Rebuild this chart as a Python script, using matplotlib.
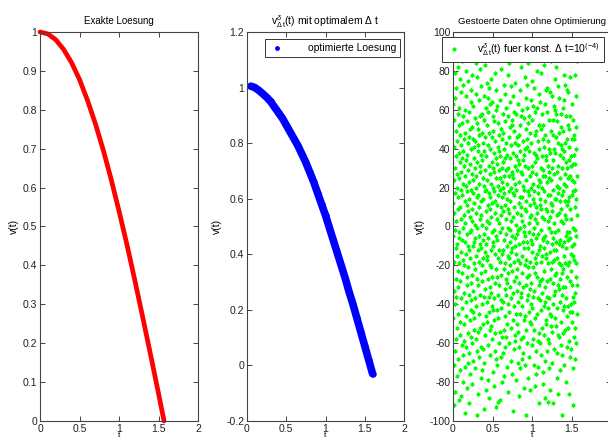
import numpy as np
import matplotlib.pyplot as plt
from matplotlib.lines import Line2D

plt.rcParams['font.family'] = ['Liberation Sans', 'DejaVu Sans']
plt.rcParams['mathtext.fontset'] = 'custom'
plt.rcParams['mathtext.rm'] = 'Liberation Sans'
plt.rcParams['mathtext.it'] = 'Liberation Sans:italic'
plt.rcParams['mathtext.bf'] = 'Liberation Sans:bold'
plt.rcParams['font.size'] = 7

# exakte Loesung
t1 = [0.0, 0.1, 0.2, 0.3, 0.4, 0.5, 0.6, 0.7, 0.8, 0.9, 1.0, 1.1, 1.2, 1.3, 1.4, 1.5, 1.57]
v1 = [1.0, 0.995, 0.980, 0.955, 0.921, 0.878, 0.825, 0.765, 0.697, 0.622, 0.540,
      0.454, 0.362, 0.267, 0.170, 0.071, 0.0]

# optimierte Loesung
t2 = [0.05, 0.10, 0.15, 0.20, 0.25, 0.30, 0.35, 0.40, 0.45, 0.50, 0.55, 0.60, 0.65, 0.70,
      0.75, 0.80, 0.85, 0.90, 0.95, 1.00, 1.05, 1.10, 1.15, 1.20, 1.25, 1.30, 1.35, 1.40,
      1.45, 1.50, 1.55, 1.60]
v2 = [1.005, 1.0, 0.99, 0.978, 0.965, 0.95, 0.93, 0.91, 0.89, 0.865, 0.84, 0.815, 0.79,
      0.76, 0.73, 0.695, 0.66, 0.62, 0.58, 0.54, 0.495, 0.45, 0.405, 0.36, 0.315, 0.265,
      0.22, 0.17, 0.12, 0.07, 0.02, -0.03]

# gestoerte Daten, t laeuft gleichmaessig von 0 bis 1.57
t3_start, t3_end = 0.0, 1.57
v3 = [
    12, -47, 63, -5, 88, -71, 24, -33, 41, -92, 7, 55, -18, 30, -64, 79, -2, -40, 17, 66, -85, 36, -11, 49, -27,
    -58, 3, 71, -36, 20, -9, 94, -52, 44, -15, 27, -77, 58, -23, 9, -45, 82, -31, 15, -68, 38, -6, 52, -89, 25,
    61, -19, -3, 47, -74, 33, -56, 10, 76, -28, -49, 19, -87, 42, 4, -37, 69, -13, 28, -61, 53, -24, 85, -7, 35,
    -42, 16, -80, 57, -1, 39, -66, 22, -17, 73, -50, 6, 45, -34, 90, -20, 31, -59, 13, -96, 48, -8, 26, -72, 60,
    2, -39, 34, -62, 80, -14, 21, -46, 67, -26, 11, -83, 37, -4, 54, -30, 18, -70, 43, -10, 75, -55, 29, -21, 8,
    -65, 46, -12, 23, -91, 59, -35, 14, -48, 86, -3, 32, -76, 50, -16, 5, -43, 70, -29, 40, -57, 19, -2, 64, -38,
    27, -81, 9, -25, 51, -60, 3, 78, -44, 17, -10, 62, -33, 24, -69, 45, -8, 35, -53, 12, 92, -19, 41, -47, 1,
    -22, 56, -73, 30, -6, 44, -37, 84, -15, 20, -58, 7, 68, -41, 26, -97, 15, -27, 53, -1, 33, -64, 77, -12, 42,
    50, -30, 16, -54, 39, -86, 22, -5, 65, -45, 10, -18, 47, -67, 28, -9, 57, -35, 4, 81, -52, 31, -24, 13, -78,
    -11, 37, -62, 6, 72, -20, 48, -40, 1, -74, 34, 58, -28, 14, -50, 89, -7, 25, -63, 43, -16, 67, -36, 21, -94,
    39, -4, 55, -70, 18, -32, 83, -13, 29, -56, 46, -23, 8, -84, 61, -1, 36, -46, 19, -9, 74, -39, 52, -17, 3,
    -49, 24, -15, 66, -79, 11, -27, 42, -6, 59, -61, 31, -36, 2, 71, -44, 17, -88, 48, -20, 27, -53, 9, 63, -31,
    15, -66, 40, -21, 5, -51, 76, -34, 22, -12, 93, -41, 12, -58, 33, -26, 64, -3, 46, -75, 20, -10, 57, -43, 30,
    -8, 49, -37, 18, -82, 28, -2, 54, -48, 38, -14, 79, -64, 7, -29, 44, -55, 13, -93, 35, -22, 60, -5, 25, -68,
    70, -26, 11, -43, 32, -7, 62, -71, 4, 41, -35, 21, -16, 53, -90, 16, -47, 87, -12, 29, -60, 2, 39, -30, 47,
    -54, 19, -89, 36, -18, 65, -3, 25, -42, 10, -67, 50, -25, 81, -38, 6, 30, -57, 15, -14, 45, -80, 23, -1, 58,
    33, -12, 48, -65, 8, -39, 20, -22, 73, -53, 17, -7, 40, -77, 26, -32, 54, -19, 11, 68, -46, 35, -62, 4, -27,
    -35, 61, -4, 29, -57, 43, -29, 91, -10, 14, -72, 37, -50, 22, -1, 57, -24, 78, -40, 30, -15, 9, -85, 46, 18,
    7, -44, 26, -16, 84, -60, 35, -8, 51, -31, -2, 64, -20, 13, -69, 42, -13, 20, -52, 3, 72, -37, 27, -11, 55,
    -76, 28, -23, 52, -5, 17, -48, 67, -34, 5, 38, -95, 25, -18, 49, -41, 10, -63, 59, -28, 16, -6, 43, -56, 31,
    22, -59, 74, -10, 36, -26, 1, -45, 58, -79, 19, -14, 46, -33, 87, -4, 29, -50, 7, -22, 63, -70, 34, -2, -39,
    -17, 42, -54, 12, -87, 47, -9, 32, -62, 23, -29, 70, -1, 39, -45, 15, -73, 52, -19, 82, -34, 6, -58, 28, 10,
    57, -36, 3, -68, 27, -15, 60, -24, 15, -41, 89, -57, 34, -8, 21, -65, 44, -31, 0, 37, -11, 56, -83, 19, -48,
    -3, 31, -46, 77, -20, 9, -71, 40, -5, 66, -30, 13, -53, 24, -97, 50, -17, 8, -38, 61, -26, 41, -8, 73, -60,
    45, -21, 18, -35, 53, -78, 30, -11, 84, -44, 2, -25, 57, -67, 16, -3, 39, -49, 26, -84, 11, -18, 48, -32, 5,
    -29, 65, -7, 43, -50, 20, -40, 6, -13, 55, -61, 28, -9, 75, -42, 31, -21, 94, -58, 14, -36, 22, -4, 62, -71,
    18, -53, 38, -1, 71, -33, 12, -82, 47, -16, 33, -47, 4, 59, -24, 10, -76, 27, -6, 49, -64, 37, -19, 2, 80,
    -45, 7, -26, 61, -14, 35, -59, 21, -37, 90, -4, 44, -72, 17, -30, 68, -12, 40, -55, 24, -91, 52, -28, 11, -10,
    64, -38, 23, -60, 14, -2, 50, -18, 30, -66, 9, -43, 79, -27, 36, -52, 5, -15, 58, -34, 20, -81, 45, -7, 29,
    -6, 52, -75, 26, -41, 83, -23, 4, -56, 41, -11, 18, -39, 63, -88, 26, -5, 47, -31, 13, -69, 34, -14, 70, -50,
    36, -16, 9, -48, 59, -28, 23, -64, 8, -8, 71, -36, 44, -19, 3, -58, 31, -90, 16, -42, 55, -1, 28, -73, 40,
    -60, 25, -37, 5, -13, 69, -45, 38, -27, 16, -84, 49, -3, 24, -51, 85, -22, 12, -46, 67, -9, 30, -54, 8, -18,
    11, -70, 47, -29, 34, -6, 55, -91, 19, -40, 62, -12, 27, -63, 40, -17, 2, -35, 76, -25, 14, -47, 38, -3, 60,
    -33, 58, -12, 82, -51, 14, -24, 46, -8, 28, -65, 6, -42, 54, -16, 21, -78, 43, -2, 31, -56, 72, -30, 17, -86,
    48, -9, 20, -57, 7, -32, 66, -19, 37, -74, 13, -27, 89, -39, 25, -7, 51, -61, 9, -20, 42, -49, 3, 58, -35,
    -24, 40, -66, 16, -97, 30, -10, 61, -43, 2, 49, -22, 18, -55, 35, -31, 65, -8, 22, -71, 39, -15, 78, -41, 13,
    73, -31, 6, -19, 43, -53, 27, -5, 57, -37, 21, -80, 33, -11, 4, -46, 70, -26, 45, -3, 11, -62, 30, -20, 52,
    -52, 13, -41, 69, -7, 25, -86, 34, -18, 50, -3, 15, -59, 41, -28, 77, -44, 9, -67, 26, -6, 57, -40, 36, -14,
    4, -63, 31, -23, 86, -44, 16, -30, 45, -10, 63, -49, 24, -1, -73, 32, -15, 55, -36, 18, -92, 47, -9, 23, -57,
    -39, 45, -17, 37, -68, 10, -34, 78, -2, 32, -52, 19, -26, 67, -5, 40, -60, 14, -19, 51, -30, 85, -45, 6, 26,
]
t3 = np.linspace(t3_start, t3_end, len(v3))

xticks = [0, 0.5, 1, 1.5, 2]
xticklabels = ['0', '0.5', '1', '1.5', '2']
axcol = '#444444'


def style(ax):
    ax.set_xlim(0, 2)
    ax.set_xticks(xticks)
    ax.set_xticklabels(xticklabels)
    ax.tick_params(direction='in', top=True, right=True, length=3.5, width=0.7,
                   colors=axcol, labelcolor='#222222', labelsize=7.5, pad=2)
    for s in ax.spines.values():
        s.set_color(axcol)
        s.set_linewidth(0.8)
    ax.set_xlabel('t', labelpad=-1, fontsize=6)
    ax.set_ylabel('v(t)', labelpad=3, fontsize=7.5)


fig = plt.figure(figsize=(6.08, 4.41), dpi=100)
ax1 = fig.add_axes([40 / 608, 20 / 441, 158 / 608, 389 / 441])
ax2 = fig.add_axes([247 / 608, 20 / 441, 157 / 608, 389 / 441])
ax3 = fig.add_axes([453 / 608, 20 / 441, 158 / 608, 389 / 441])

# Panel 1
ax1.plot(t1, v1, color='red', lw=3.4, solid_capstyle='round', clip_on=False)
ax1.set_ylim(0, 1)
yt1 = np.arange(0, 1.01, 0.1)
ax1.set_yticks(yt1)
ax1.set_yticklabels(['0', '0.1', '0.2', '0.3', '0.4', '0.5', '0.6', '0.7', '0.8', '0.9', '1'])
style(ax1)
ax1.set_title('Exakte Loesung', fontsize=7, pad=6)

# Panel 2
ax2.plot(t2, v2, color='blue', lw=5.5, solid_capstyle='round', marker='.', ms=7)
ax2.set_ylim(-0.2, 1.2)
ax2.set_yticks([-0.2, 0, 0.2, 0.4, 0.6, 0.8, 1.0, 1.2])
ax2.set_yticklabels(['-0.2', '0', '0.2', '0.4', '0.6', '0.8', '1', '1.2'])
style(ax2)
ax2.set_title(r'$\mathrm{v}^{\delta}_{\Delta\,\mathrm{t}}$(t) mit optimalem Δ t', fontsize=7.5, pad=5)
h2 = Line2D([], [], color='blue', marker='.', ls='none', ms=5)
leg2 = ax2.legend([h2], ['optimierte Loesung'], loc='upper right',
                  bbox_to_anchor=(0.975, 0.982), fontsize=7.5, fancybox=False,
                  edgecolor='#333333', framealpha=1, borderpad=0.4, handlelength=1.5,
                  handletextpad=2.2, borderaxespad=0)
leg2.get_frame().set_linewidth(0.7)

# Panel 3
ax3.plot(t3, v3, ls='none', marker=(6, 2, 0), ms=2.8, mew=0.9, color='#00ff00')
ax3.set_ylim(-100, 100)
ax3.set_yticks(np.arange(-100, 101, 20))
ax3.set_yticklabels([str(v) for v in range(-100, 101, 20)])
style(ax3)
ax3.set_title('Gestoerte Daten ohne Optimierung', fontsize=6.8, pad=6)
h3 = Line2D([], [], color='#00ff00', marker=(6, 2, 0), ls='none', ms=2.8, mew=0.9)
leg3 = ax3.legend([h3], [r'$\mathrm{v}^{\delta}_{\Delta\,\mathrm{t}}$(t) fuer konst. Δ t=10$^{(-4)}$'],
                  loc='upper right', bbox_to_anchor=(0.956, 0.987), fontsize=7.5,
                  fancybox=False, edgecolor='#333333', framealpha=1, borderpad=0.4,
                  handlelength=1.5, handletextpad=1.5, borderaxespad=0)
leg3.get_frame().set_linewidth(0.7)

fig.savefig('out.png', dpi=100)
